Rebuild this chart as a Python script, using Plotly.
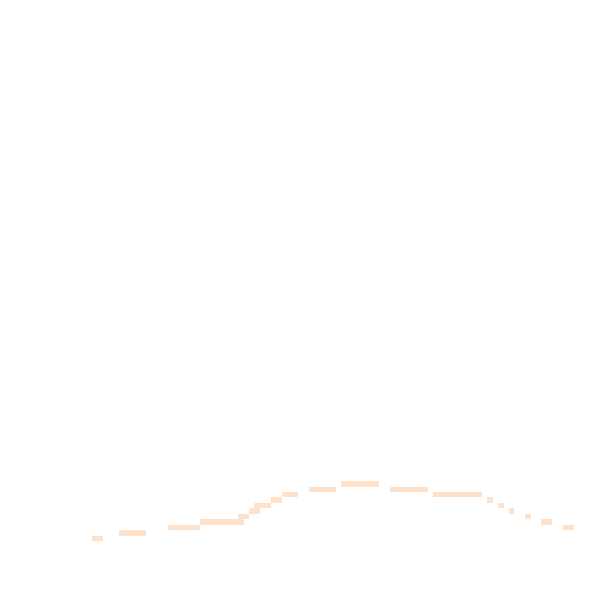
import numpy as np
import plotly.graph_objects as go

# filled cells: start column, end column (exclusive), row level
col_start = [17, 22, 31, 37, 44, 46, 47, 50, 52, 57, 63, 72, 80, 90, 92, 94, 97, 100, 104]
col_end = [19, 27, 37, 45, 46, 48, 50, 52, 55, 62, 70, 79, 89, 91, 93, 95, 98, 102, 106]
level = [0, 1, 2, 3, 4, 5, 6, 7, 8, 9, 10, 9, 8, 7, 6, 5, 4, 3, 2]

n_cols = 111
n_rows = 11

z = np.full((n_rows, n_cols), np.nan)
for c0, c1, lv in zip(col_start, col_end, level):
    z[lv, c0:c1] = 1

fig = go.Figure()
fig.add_trace(go.Heatmap(
    z=z,
    x=np.arange(n_cols) + 0.5,
    y=np.arange(n_rows) + 0.5,
    colorscale=[[0, 'rgb(253,225,203)'], [1, 'rgb(253,225,203)']],
    showscale=False,
    hoverinfo='skip',
))

fig.update_layout(
    width=600, height=600,
    margin=dict(l=0, r=0, t=0, b=0),
    paper_bgcolor='white',
    plot_bgcolor='white',
    showlegend=False,
    xaxis=dict(visible=False, range=[1.48, 112.38]),
    yaxis=dict(visible=False, range=[-12.29, 97.80]),
)

fig.write_html("out.html")
